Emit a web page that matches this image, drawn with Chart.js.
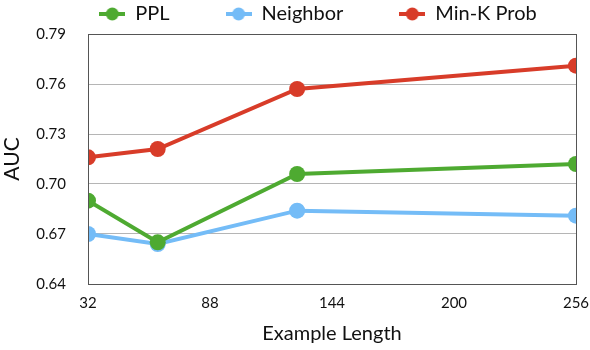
<!DOCTYPE html>
<html>
<head>
<meta charset="utf-8">
<script src="https://cdn.jsdelivr.net/npm/chart.js@4.4.1/dist/chart.umd.min.js"></script>
<style>
  html, body { margin: 0; padding: 0; background: #fff; }
  #wrap { width: 590px; height: 350px; }
</style>
</head>
<body>
<div id="wrap"><canvas id="aucChart"></canvas></div>
<script>
const lengths = [32, 64, 128, 256];
const ppl = [0.690, 0.665, 0.706, 0.712];
const neighbor = [0.670, 0.664, 0.684, 0.681];
const minK = [0.716, 0.721, 0.757, 0.771];
const xTicks = [32, 88, 144, 200, 256];

const green = '#4eaa31';
const blue = '#74bcf7';
const red = '#d83c29';

// little line+dot marker for the legend
function legendMark(color) {
    const c = document.createElement('canvas');
    c.width = 26; c.height = 14;
    const g = c.getContext('2d');
    g.strokeStyle = color;
    g.lineWidth = 4;
    g.beginPath(); g.moveTo(0, 7); g.lineTo(26, 7); g.stroke();
    g.fillStyle = color;
    g.beginPath(); g.arc(13, 7, 6.5, 0, Math.PI * 2); g.fill();
    return c;
}

function series(label, values, color) {
    return {
        label: label,
        data: lengths.map((x, i) => ({ x: x, y: values[i] })),
        borderColor: color,
        backgroundColor: color,
        borderWidth: 4,
        pointRadius: 8,
        pointHoverRadius: 8,
        pointBorderWidth: 0,
        pointStyle: 'circle',
        tension: 0
    };
}

// box around the plot area
const frame = {
    id: 'frame',
    afterDatasetsDraw(chart) {
        const a = chart.chartArea, g = chart.ctx;
        g.save();
        g.strokeStyle = '#555';
        g.lineWidth = 1;
        g.strokeRect(Math.round(a.left) + 0.5, Math.round(a.top) + 0.5,
            Math.round(a.right - a.left), Math.round(a.bottom - a.top));
        g.restore();
    }
};

// keep the legend short but with wide gaps between items
const legendBand = {
    id: 'legendBand',
    beforeUpdate(chart) {
        const lg = chart.legend;
        if (lg && !lg._patched) {
            const fit = lg.fit;
            lg.fit = function () { fit.call(this); this.height = 34; };
            lg._patched = true;
        }
    },
    afterLayout(chart) {
        if (chart.legend) {
            chart.legend.top = -52;
            chart.legend.left += 30;
            chart.legend.right += 30;
        }
    }
};

const ctx = document.getElementById('aucChart').getContext('2d');
new Chart(ctx, {
    type: 'line',
    data: {
        datasets: [
            series('PPL', ppl, green),
            series('Neighbor', neighbor, blue),
            series('Min-K Prob', minK, red)
        ]
    },
    options: {
        responsive: true,
        maintainAspectRatio: false,
        animation: false,
        layout: { padding: { left: 0, right: 14, top: 0, bottom: 0 } },
        plugins: {
            tooltip: { enabled: false },
            legend: {
                display: true,
                labels: {
                    usePointStyle: true,
                    pointStyleWidth: 26,
                    font: { family: 'Lato', size: 20 },
                    color: '#111',
                    padding: 56,
                    generateLabels(chart) {
                        return chart.data.datasets.map((ds, i) => ({
                            text: ds.label,
                            pointStyle: legendMark(ds.borderColor),
                            fillStyle: ds.borderColor,
                            strokeStyle: ds.borderColor,
                            lineWidth: 0,
                            fontColor: '#111',
                            datasetIndex: i
                        }));
                    }
                }
            }
        },
        scales: {
            x: {
                type: 'linear',
                min: 32,
                max: 256,
                afterBuildTicks(axis) { axis.ticks = xTicks.map(v => ({ value: v })); },
                afterFit(axis) {
                    axis.height = 66;
                    axis.paddingLeft = 0;
                    axis.paddingRight = 0;
                },
                grid: { display: false, drawTicks: false },
                border: { display: false },
                ticks: {
                    font: { family: 'Lato', size: 15 },
                    color: '#111',
                    padding: 10,
                    maxRotation: 0
                },
                title: {
                    display: true,
                    text: 'Example Length',
                    font: { family: 'Lato', size: 20 },
                    color: '#111',
                    padding: { top: 12, bottom: 4 }
                }
            },
            y: {
                min: 0.64,
                max: 0.79,
                afterFit(axis) { axis.width = 88; },
                grid: { color: '#b5b5b5', drawTicks: false, lineWidth: 1 },
                border: { display: false },
                ticks: {
                    stepSize: 0.03,
                    font: { family: 'Lato', size: 15 },
                    color: '#111',
                    padding: 22,
                    callback: v => v.toFixed(2)
                },
                title: {
                    display: true,
                    text: 'AUC',
                    font: { family: 'Lato', size: 21 },
                    color: '#111',
                    padding: { top: 0, bottom: 0 }
                }
            }
        }
    },
    plugins: [frame, legendBand]
});
</script>
</body>
</html>
